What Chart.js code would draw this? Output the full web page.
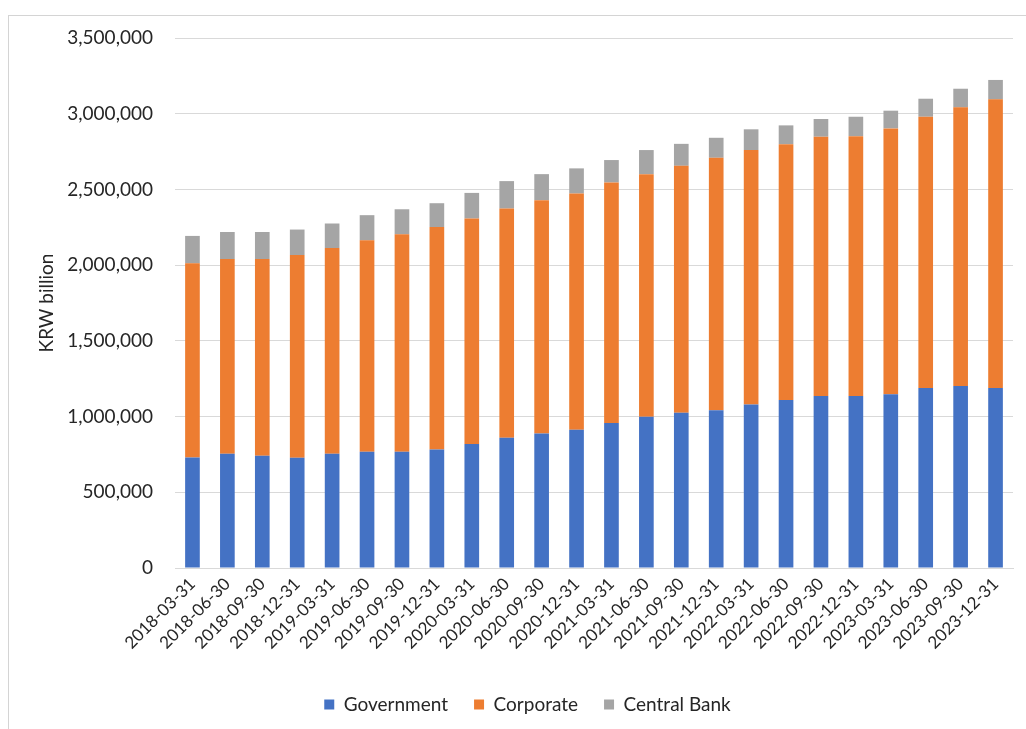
<!DOCTYPE html>
<html>
<head>
<meta charset="utf-8">
<script src="https://cdn.jsdelivr.net/npm/chart.js@4/dist/chart.umd.min.js"></script>
<style>
  html, body { margin: 0; padding: 0; background: #fff; }
  #wrap { position: relative; width: 1026px; height: 729px; }
  #frame { position: absolute; left: 8px; top: 15px; width: 1040px; height: 730px;
           border-top: 1px solid #d4d4d4; border-left: 1px solid #d4d4d4; }
  canvas { position: absolute; left: 0; top: 0; }
</style>
</head>
<body>
<div id="wrap">
  <div id="frame"></div>
  <canvas id="c" width="1026" height="729"></canvas>
</div>
<script>
const categories = [
  "2018-03-31","2018-06-30","2018-09-30","2018-12-31",
  "2019-03-31","2019-06-30","2019-09-30","2019-12-31",
  "2020-03-31","2020-06-30","2020-09-30","2020-12-31",
  "2021-03-31","2021-06-30","2021-09-30","2021-12-31",
  "2022-03-31","2022-06-30","2022-09-30","2022-12-31",
  "2023-03-31","2023-06-30","2023-09-30","2023-12-31"
];
const government = [
  730000, 754000, 741000, 728000, 754000, 768000, 768000, 783000,
  819000, 860000, 889000, 913000, 957000, 999000, 1026000, 1041000,
  1079000, 1110000, 1136000, 1136000, 1147000, 1189000, 1202000, 1189000
];
const corporate = [
  1282000, 1286000, 1299000, 1339000, 1359000, 1396000, 1436000, 1469000,
  1489000, 1514000, 1540000, 1560000, 1589000, 1602000, 1630000, 1668000,
  1681000, 1689000, 1712000, 1716000, 1756000, 1791000, 1840000, 1906000
];
const centralBank = [
  181000, 179000, 179000, 168000, 162000, 166000, 165000, 157000,
  169000, 181000, 172000, 166000, 148000, 159000, 145000, 132000,
  137000, 124000, 117000, 128000, 117000, 119000, 123000, 128000
];
const seriesNames = ["Government", "Corporate", "Central Bank"];
const yTicks = [0, 500000, 1000000, 1500000, 2000000, 2500000, 3000000, 3500000];

const FONT = "Lato, 'Open Sans', sans-serif";
const TXT = "#262626";

const shiftLegend = {
  id: "shiftLegend",
  afterLayout(chart) {
    if (chart.legend) { chart.legend.left += 21; chart.legend.right += 21; }
  }
};

new Chart(document.getElementById("c"), {
  type: "bar",
  data: {
    labels: categories,
    datasets: [
      { label: seriesNames[0], data: government, backgroundColor: "#4472C4" },
      { label: seriesNames[1], data: corporate, backgroundColor: "#ED7D31" },
      { label: seriesNames[2], data: centralBank, backgroundColor: "#A5A5A5" }
    ]
  },
  plugins: [shiftLegend],
  options: {
    responsive: false,
    animation: false,
    devicePixelRatio: 1,
    layout: { padding: { left: 0, right: 13, top: 38, bottom: 5 } },
    datasets: { bar: { categoryPercentage: 1.0, barPercentage: 0.42 } },
    plugins: {
      legend: {
        position: "bottom",
        labels: {
          font: { family: FONT, size: 19 },
          color: TXT,
          boxWidth: 10, boxHeight: 10,
          padding: 26
        }
      },
      tooltip: { enabled: false }
    },
    scales: {
      x: {
        stacked: true,
        grid: { display: false, drawTicks: false },
        border: { color: "#d9d9d9" },
        ticks: {
          font: { family: FONT, size: 17 },
          color: TXT,
          minRotation: 45, maxRotation: 45,
          autoSkip: false,
          padding: 6
        },
        afterFit: s => { s.height = 101; }
      },
      y: {
        stacked: true,
        min: 0, max: 3500000,
        afterBuildTicks: s => { s.ticks = yTicks.map(v => ({ value: v })); },
        grid: { color: "#d9d9d9", drawTicks: false },
        border: { display: false },
        ticks: {
          font: { family: FONT, size: 19 },
          color: TXT,
          padding: 22,
          callback: v => v.toLocaleString("en-US")
        },
        title: {
          display: true,
          text: "KRW billion",
          font: { family: FONT, size: 19 },
          color: TXT,
          padding: { top: 35, bottom: 0 }
        },
        afterFit: s => { s.width = 175; }
      }
    }
  }
});
</script>
</body>
</html>
